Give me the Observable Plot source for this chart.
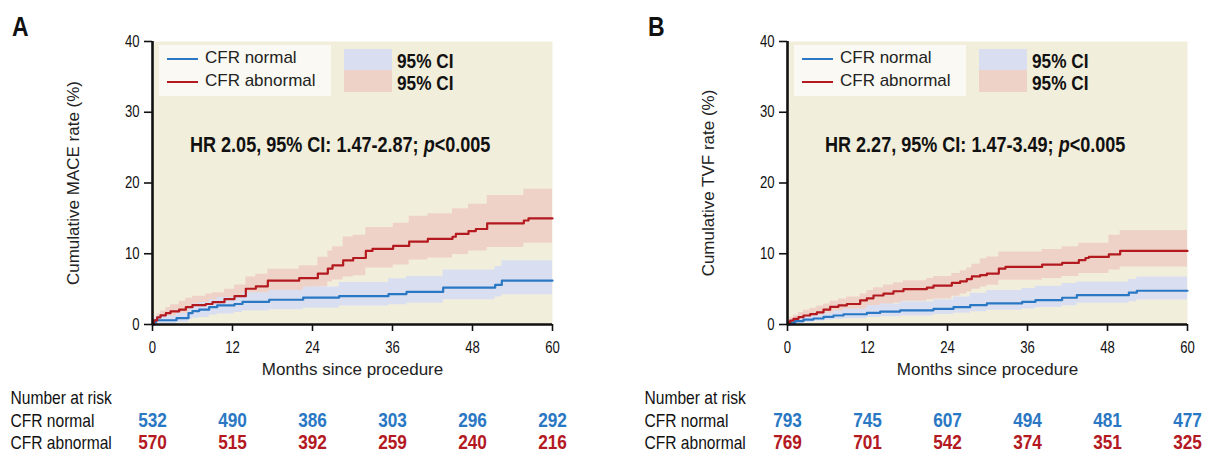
<!DOCTYPE html>
<html><head><meta charset="utf-8">
<script src="https://cdn.jsdelivr.net/npm/d3@7"></script>
<script src="https://cdn.jsdelivr.net/npm/@observablehq/plot@0.6"></script>
<style>
body{margin:0;background:#fff;}
#wrap{position:relative;width:1205px;height:452px;overflow:hidden;font-family:"Liberation Sans",Arial,sans-serif;color:#111;}
.panel{position:absolute;top:0;}
.abs{position:absolute;white-space:nowrap;}
.cond{display:inline-block;transform:scaleX(0.82);transform-origin:0 0;}
.letter{font-weight:bold;font-size:28px;line-height:28px;}
.leg{font-size:17px;line-height:20px;color:#222;}
.ci{font-weight:bold;font-size:21px;line-height:19px;height:19px;}
.ci .cond{line-height:19px;}
.hr{font-weight:bold;font-size:22px;line-height:28px;}
</style></head>
<body><div id="wrap"></div>
<script>
// ---------- data ----------
const xTicks = [0, 12, 24, 36, 48, 60];
const yTicks = [0, 10, 20, 30, 40];
const riskTimes = [0, 12, 24, 36, 48, 60];

// Panel A (MACE)
const aNormT   = [0, 0.2, 0.5, 3.6, 5.4, 6, 7, 8.5, 9.7, 12.3, 13.5, 17.5, 22.6, 28, 35.4, 38.1, 43.6, 51.4, 52.4, 60];
const aNormEst = [0, 0.3, 0.6, 0.9, 1.6, 1.9, 2.1, 2.45, 2.7, 2.9, 3.2, 3.5, 3.8, 4.0, 4.3, 4.6, 5.2, 5.6, 6.2, 6.2];
const aNormLo  = [0, 0.05, 0.1, 0.3, 0.7, 0.9, 1.0, 1.3, 1.5, 1.7, 1.9, 2.1, 2.3, 2.6, 2.8, 3.0, 3.5, 3.9, 4.2, 4.2];
const aNormHi  = [0, 0.8, 1.2, 1.6, 2.5, 2.9, 3.1, 3.5, 3.8, 4.1, 4.5, 4.8, 5.3, 5.95, 6.45, 6.8, 7.7, 8.2, 9.0, 9.0];

const aAbnT   = [0, 0.2, 0.7, 1.2, 2, 2.7, 4, 5, 6, 8, 9, 10.8, 12.3, 14, 15.5, 17.3, 22, 24.8, 26.3, 27, 28.6, 30.1, 32, 33, 36.1, 38.5, 41.3, 45, 45.5, 47.4, 48.5, 50.2, 55.7, 56.4, 60];
const aAbnEst = [0, 0.57, 1.0, 1.3, 1.6, 1.85, 2.1, 2.45, 2.75, 2.9, 3.15, 3.6, 4.0, 5.05, 5.4, 6.2, 6.55, 7.2, 7.9, 8.35, 9.05, 9.4, 10.4, 10.7, 11.1, 11.7, 12.1, 12.4, 12.8, 13.2, 13.5, 14.3, 14.7, 15.0, 15.0];
const aAbnLo  = [0, 0.05, 0.2, 0.4, 0.7, 0.9, 1.1, 1.3, 1.5, 1.7, 1.9, 2.1, 2.5, 3.4, 3.7, 4.4, 4.8, 5.3, 6.0, 6.3, 6.7, 6.9, 8.0, 8.0, 8.4, 9.1, 9.4, 9.9, 9.9, 10.4, 10.4, 10.9, 11.5, 11.5, 11.5];
const aAbnHi  = [0, 0.9, 1.5, 1.9, 2.4, 2.8, 3.3, 3.7, 4.0, 4.3, 4.5, 5.0, 5.6, 6.7, 7.1, 7.8, 8.3, 9.5, 10.4, 11.0, 12.35, 12.6, 13.7, 13.7, 14.3, 15.3, 15.65, 16.35, 16.35, 17.0, 17.0, 18.25, 19.1, 19.1, 19.1];

const aRiskNormal   = [532, 490, 386, 303, 296, 292];
const aRiskAbnormal = [570, 515, 392, 259, 240, 216];

// Panel B (TVF)
const bNormT   = [0, 0.4, 1.15, 2.4, 3.9, 5.4, 6.9, 8.4, 11.9, 13.9, 16.9, 21.9, 24.9, 27.4, 29.9, 35.2, 37.2, 41.2, 43.4, 51.2, 52.4, 60];
const bNormEst = [0, 0.23, 0.47, 0.7, 0.85, 1.08, 1.27, 1.45, 1.64, 1.83, 2.0, 2.2, 2.45, 2.75, 2.98, 3.2, 3.45, 3.78, 4.15, 4.5, 4.77, 4.77];
const bNormLo  = [0, 0.05, 0.15, 0.3, 0.45, 0.6, 0.7, 0.8, 1.0, 1.1, 1.2, 1.4, 1.6, 1.8, 2.0, 2.2, 2.4, 2.65, 3.0, 3.2, 3.45, 3.45];
const bNormHi  = [0, 0.5, 0.8, 1.1, 1.3, 1.6, 1.9, 2.2, 2.7, 2.9, 3.2, 3.5, 3.9, 4.4, 4.8, 5.1, 5.4, 5.8, 6.0, 6.35, 6.7, 6.7];

const bAbnT   = [0, 0.15, 0.4, 0.9, 1.65, 2.4, 3.4, 4.4, 5.4, 6.4, 7.65, 8.9, 10.9, 11.9, 12.9, 14.4, 15.9, 17.4, 20.9, 21.9, 24.65, 25.9, 26.9, 27.65, 28.9, 29.9, 31.7, 32.7, 38.2, 41.2, 43.7, 44.7, 45.2, 48.2, 49.9, 60];
const bAbnEst = [0, 0.33, 0.56, 0.8, 1.03, 1.27, 1.46, 1.7, 2.1, 2.5, 2.7, 2.9, 3.4, 3.7, 4.1, 4.37, 4.7, 5.0, 5.2, 5.5, 5.87, 6.1, 6.4, 6.8, 6.97, 7.2, 7.9, 8.14, 8.47, 8.7, 9.1, 9.4, 9.55, 9.9, 10.4, 10.4];
const bAbnLo  = [0, 0.05, 0.1, 0.2, 0.4, 0.5, 0.65, 0.8, 1.0, 1.2, 1.5, 1.7, 2.0, 2.3, 2.5, 2.8, 3.0, 3.3, 3.5, 3.6, 4.0, 4.3, 4.6, 5.0, 5.3, 5.55, 6.27, 6.27, 6.5, 6.8, 7.2, 7.2, 7.2, 7.7, 8.14, 8.14];
const bAbnHi  = [0, 0.7, 1.0, 1.3, 1.7, 2.0, 2.3, 2.6, 2.9, 3.3, 3.6, 3.9, 4.3, 4.8, 5.2, 5.6, 5.9, 6.2, 6.5, 6.8, 7.2, 7.6, 8.0, 8.5, 9.3, 9.55, 10.25, 10.25, 10.6, 11.0, 11.5, 11.5, 11.5, 12.6, 13.3, 13.3];

const bRiskNormal   = [793, 745, 607, 494, 481, 477];
const bRiskAbnormal = [769, 701, 542, 374, 351, 325];

const hrA = ["HR 2.05, 95% CI: 1.47-2.87; ", "<0.005"];
const hrB = ["HR 2.27, 95% CI: 1.47-3.49; ", "<0.005"];

// ---------- styles ----------
const BLUE = "#2a78c3", RED = "#b3191f";
const BLUE_CI = "#d9dff0", RED_CI = "#efd2c7";
const BEIGE = "#f2eedc", LEGBG = "#faf9f3";
const BASE = "'Liberation Sans',Arial,sans-serif";
const REG = "'Liberation Sans', Arial, sans-serif";
const SQUEEZE = 0.82;

function rows(t, est, lo, hi) {
  return t.map((d, i) => ({t: d, est: est[i], lo: lo[i], hi: hi[i]}));
}

function panel(o) {
  const normal = rows(...o.normal), abnormal = rows(...o.abnormal);
  const lab = (txt, dy, size) => Plot.text([txt], {text: d => d, frameAnchor: "bottom-left", dx: o.labelDx, dy, textAnchor: "start", lineAnchor: "middle", fontSize: size});
  return Plot.plot({
    width: o.width, height: 452,
    marginLeft: o.marginLeft, marginRight: o.marginRight, marginTop: 41, marginBottom: 128,
    x: {domain: [0, 60]},
    y: {domain: [0, 40]},
    style: {fontFamily: BASE, background: "transparent", overflow: "visible", color: "#111"},
    marks: [
      Plot.frame({fill: BEIGE, stroke: null}),
      Plot.areaY(abnormal, {x: "t", y1: "lo", y2: "hi", curve: "step-after", fill: RED_CI}),
      Plot.areaY(normal, {x: "t", y1: "lo", y2: "hi", curve: "step-after", fill: BLUE_CI}),
      Plot.line(normal, {x: "t", y: "est", curve: "step-after", stroke: BLUE, strokeWidth: 2.2}),
      Plot.line(abnormal, {x: "t", y: "est", curve: "step-after", stroke: RED, strokeWidth: 2.2}),
      Plot.axisY({ticks: yTicks, tickSize: 8, tickPadding: 5, fontSize: 16, label: null, strokeWidth: 1.6}),
      Plot.axisX({ticks: xTicks, tickSize: 7, tickPadding: 10, fontSize: 16, label: null, strokeWidth: 1.6}),
      Plot.ruleX([0], {strokeWidth: 2.6, stroke: "#111"}),
      Plot.ruleY([0], {strokeWidth: 2.6, stroke: "#111"}),
      Plot.text([o.ylabel], {text: d => d, frameAnchor: "left", textAnchor: "middle", lineAnchor: "middle", rotate: -90, dx: -79, fontSize: 17, fontFamily: REG, fill: "#222"}),
      Plot.text(["Months since procedure"], {text: d => d, frameAnchor: "bottom", lineAnchor: "middle", dy: 45, fontSize: 17, fontFamily: REG, fill: "#222"}),
      lab("Number at risk", 73, 19),
      lab("CFR normal", 96, 19),
      lab("CFR abnormal", 118, 19),
      Plot.text(o.riskN, {x: riskTimes, text: d => d, frameAnchor: "bottom", lineAnchor: "middle", dy: 96, fill: BLUE, fontWeight: "bold", fontSize: 21}),
      Plot.text(o.riskA, {x: riskTimes, text: d => d, frameAnchor: "bottom", lineAnchor: "middle", dy: 118, fill: RED, fontWeight: "bold", fontSize: 21})
    ]
  });
}

// horizontally condense every text that is not explicitly given a regular font
function condense(svg) {
  svg.querySelectorAll("text").forEach(t => {
    if (t.closest("g[font-family]")) return;
    const L = t.getComputedTextLength();
    if (L > 0) {
      t.setAttribute("textLength", (L * SQUEEZE).toFixed(2));
      t.setAttribute("lengthAdjust", "spacingAndGlyphs");
    }
  });
}

const wrap = document.getElementById("wrap");

function addPanel(left, axisX, letter, plot, hr) {
  const p = document.createElement("div");
  p.className = "panel"; p.style.left = left + "px";
  p.appendChild(plot);
  wrap.appendChild(p);
  condense(plot);
  const L = axisX;
  const html = `
    <div class="abs letter" style="left:${letter.x}px;top:13px"><span class="cond">${letter.t}</span></div>
    <div class="abs" style="left:${L+7}px;top:45px;width:172px;height:51px;background:${LEGBG}"></div>
    <div class="abs" style="left:${L+15}px;top:58px;width:31px;height:2px;background:${BLUE}"></div>
    <div class="abs" style="left:${L+15}px;top:81px;width:31px;height:2px;background:${RED}"></div>
    <div class="abs leg" style="left:${L+53}px;top:48px">CFR normal</div>
    <div class="abs leg" style="left:${L+53}px;top:71px">CFR abnormal</div>
    <div class="abs" style="left:${L+192}px;top:49px;width:48px;height:21px;background:${BLUE_CI}"></div>
    <div class="abs" style="left:${L+192}px;top:70px;width:48px;height:22px;background:${RED_CI}"></div>
    <div class="abs ci" style="left:${L+245}px;top:51px"><span class="cond">95% CI</span></div>
    <div class="abs ci" style="left:${L+245}px;top:73px"><span class="cond">95% CI</span></div>
    <div class="abs hr" style="left:${L+38}px;top:131px"><span class="cond">${hr[0]}<i>p</i>${hr[1]}</span></div>`;
  wrap.insertAdjacentHTML("beforeend", html);
}

addPanel(0, 152, {x: 12, t: "A"}, panel({
  width: 600, marginLeft: 152, marginRight: 48, labelDx: -142,
  ylabel: "Cumulative MACE rate (%)",
  normal: [aNormT, aNormEst, aNormLo, aNormHi],
  abnormal: [aAbnT, aAbnEst, aAbnLo, aAbnHi],
  riskN: aRiskNormal, riskA: aRiskAbnormal
}), hrA);

addPanel(600, 787, {x: 648, t: "B"}, panel({
  width: 605, marginLeft: 187, marginRight: 18, labelDx: -143,
  ylabel: "Cumulative TVF rate (%)",
  normal: [bNormT, bNormEst, bNormLo, bNormHi],
  abnormal: [bAbnT, bAbnEst, bAbnLo, bAbnHi],
  riskN: bRiskNormal, riskA: bRiskAbnormal
}), hrB);
</script>
</body></html>
